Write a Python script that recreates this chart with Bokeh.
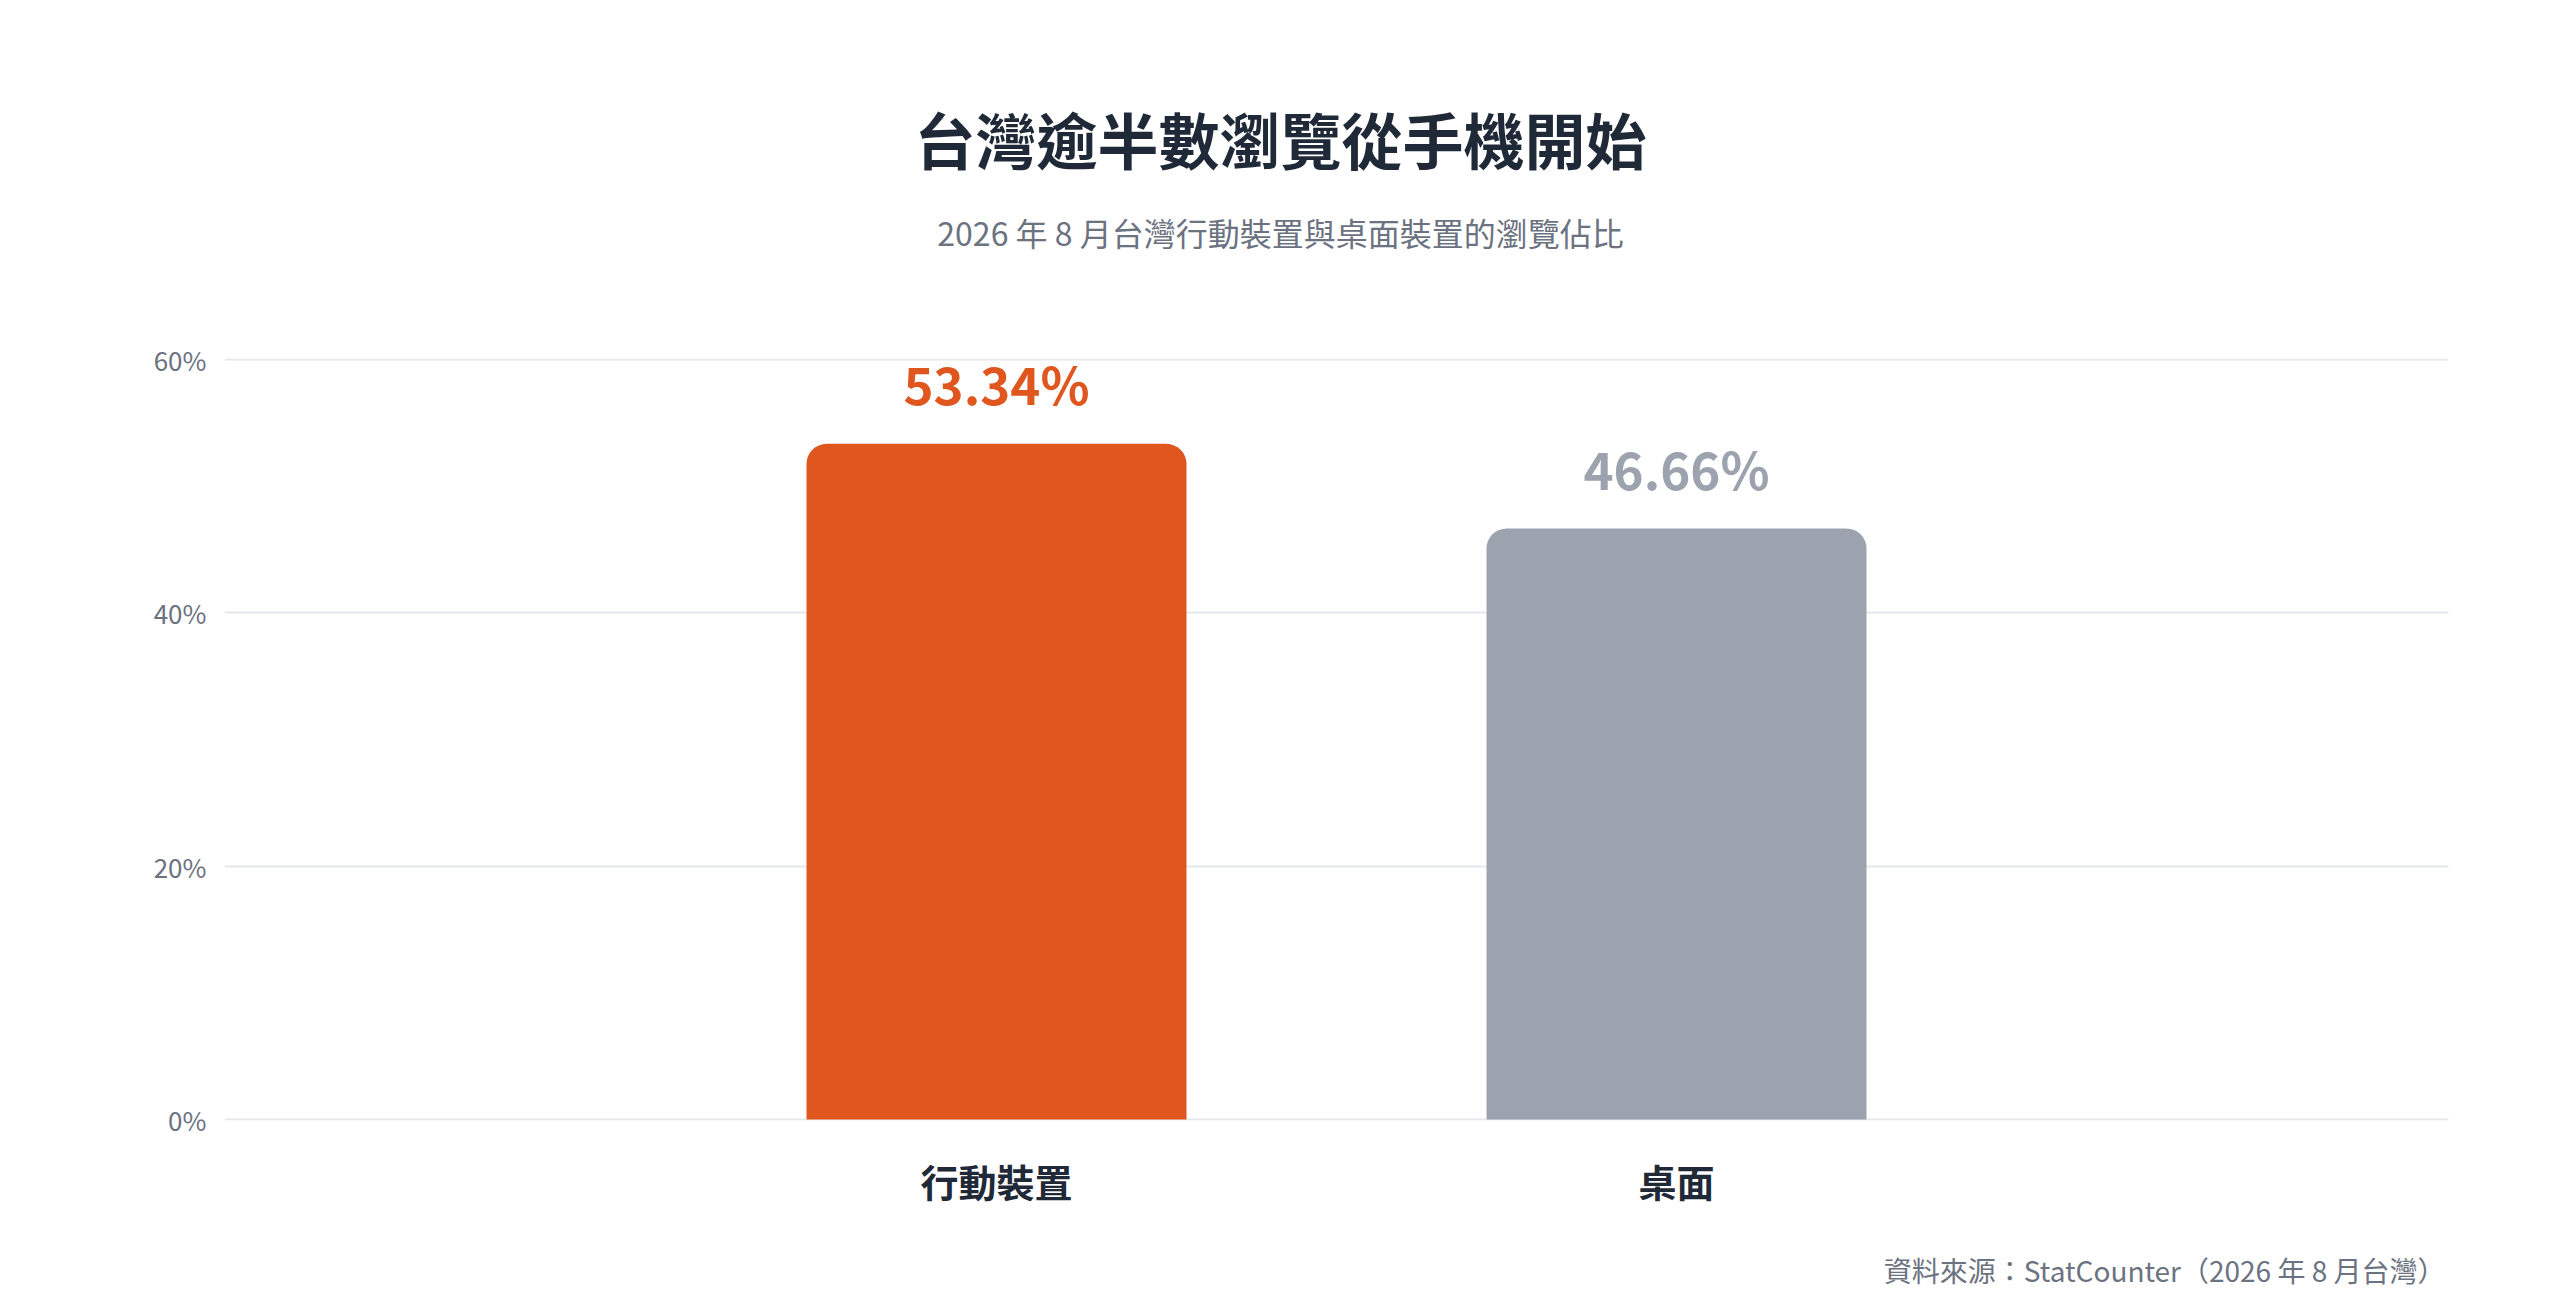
from bokeh.plotting import figure
from bokeh.layouts import column
from bokeh.models import Range1d, FixedTicker, PrintfTickFormatter, ColumnDataSource
from bokeh.core.properties import value
from bokeh.embed import file_html
from bokeh.resources import INLINE

# ---- data ----
categories = ["行動裝置", "桌面"]
shares = [53.34, 46.66]
bar_colors = ["#E0561F", "#9CA3AF"]
y_ticks = [0, 20, 40, 60]
title_text = "台灣逾半數瀏覽從手機開始"
subtitle_text = "2026 年 8 月台灣行動裝置與桌面裝置的瀏覽佔比"
source_text = "資料來源：StatCounter（2026 年 8 月台灣）"

FONT = "Noto Sans CJK TC"
W = 2560
FRAME_L, FRAME_R = 224, 2448
HEADER_H = 318
FOOTER_H = 80
MAIN_H = 1309 - HEADER_H - FOOTER_H
FRAME_H = 762


def blank(height):
    f = figure(width=W, height=height, output_backend="svg", toolbar_location=None,
               x_range=Range1d(FRAME_L, FRAME_R), y_range=Range1d(height, 0),
               x_axis_type=None, y_axis_type=None,
               min_border_left=FRAME_L, min_border_right=W - FRAME_R,
               min_border_top=0, min_border_bottom=0)
    f.outline_line_color = None
    f.background_fill_color = "white"
    f.border_fill_color = "white"
    return f


# ---- header: title + subtitle ----
header = blank(HEADER_H)
header.text(x=[W / 2], y=[138], text=[title_text], text_font=value(FONT),
            text_font_style="bold", text_font_size="61px", text_color="#1F2937",
            text_align="center", text_baseline="middle")
header.text(x=[W / 2], y=[231], text=[subtitle_text], text_font=value(FONT),
            text_font_size="32px", text_color="#6B7280",
            text_align="center", text_baseline="middle")

# ---- main chart ----
positions = list(range(len(categories)))
src = ColumnDataSource(dict(
    x=positions,
    top=shares,
    color=bar_colors,
    label=[f"{v:.2f}%" for v in shares],
    label_y=[v + 4.8 for v in shares],
))

p = figure(width=W, height=MAIN_H, output_backend="svg", toolbar_location=None,
           x_range=Range1d(-1.1353, 2.1353), y_range=Range1d(-0.08, 60.08),
           min_border_left=FRAME_L, min_border_right=W - FRAME_R,
           min_border_top=40, min_border_bottom=MAIN_H - 40 - FRAME_H)
p.outline_line_color = None
p.background_fill_color = "white"
p.border_fill_color = "white"

p.vbar(x="x", top="top", bottom=0, width=0.5588, fill_color="color",
       line_color=None, border_radius=(20, 20, 0, 0), source=src)
p.text(x="x", y="label_y", text="label", text_color="color",
       text_font=value(FONT), text_font_style="bold", text_font_size="51px",
       text_align="center", text_baseline="middle", source=src)

p.xgrid.grid_line_color = None
p.ygrid.grid_line_color = "#E5E7EB"
p.ygrid.grid_line_width = 2
p.ygrid.ticker = FixedTicker(ticks=y_ticks)

p.yaxis.ticker = FixedTicker(ticks=y_ticks)
p.yaxis.formatter = PrintfTickFormatter(format="%d%%")
p.yaxis.axis_line_color = None
p.yaxis.major_tick_line_color = None
p.yaxis.minor_tick_line_color = None
p.yaxis.major_label_text_font = FONT
p.yaxis.major_label_text_font_size = "26px"
p.yaxis.major_label_text_color = "#6B7280"
p.yaxis.major_label_standoff = 12

p.xaxis.ticker = FixedTicker(ticks=positions)
p.xaxis.major_label_overrides = {i: c for i, c in zip(positions, categories)}
p.xaxis.axis_line_color = None
p.xaxis.major_tick_line_color = None
p.xaxis.minor_tick_line_color = None
p.xaxis.major_label_text_font = FONT
p.xaxis.major_label_text_font_size = "38px"
p.xaxis.major_label_text_font_style = "bold"
p.xaxis.major_label_text_color = "#1F2937"
p.xaxis.major_label_standoff = 26

# ---- footer: source ----
footer = blank(FOOTER_H)
footer.text(x=[2445], y=[40], text=[source_text], text_font=value(FONT),
            text_font_size="28px", text_color="#6B7280",
            text_align="right", text_baseline="middle")

layout = column(header, p, footer, spacing=0)
open("out.html", "w").write(file_html(layout, INLINE))
